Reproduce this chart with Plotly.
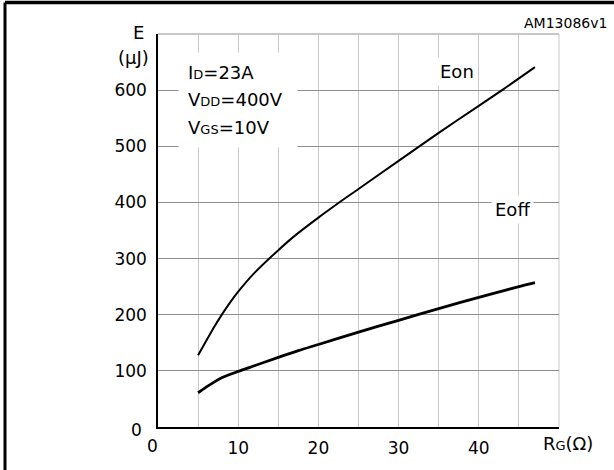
import plotly.graph_objects as go

# Data
rg_on = [5, 6, 7, 8, 9, 10, 12, 15, 17, 20, 22.5, 25, 30, 35, 40, 43, 47]
e_on = [128, 153, 178, 201, 222, 241, 274, 315, 340, 373, 399, 424, 474, 524, 572, 601, 641]
rg_off = [5, 6, 7, 8, 10, 12, 15, 17.5, 20, 25, 30, 35, 40, 45, 47]
e_off = [61, 71, 80, 88, 99, 109, 124, 136, 147, 169, 190, 211, 231, 250, 257]

x_ticks = [10, 20, 30, 40]
y_ticks = [100, 200, 300, 400, 500, 600]

FONT = "DejaVu Sans, Verdana, sans-serif"

fig = go.Figure()
fig.add_trace(go.Scatter(x=rg_on, y=e_on, mode="lines",
                         line=dict(color="black", width=2, shape="spline", smoothing=0.8),
                         showlegend=False, hoverinfo="skip"))
fig.add_trace(go.Scatter(x=rg_off, y=e_off, mode="lines",
                         line=dict(color="black", width=2.8, shape="spline", smoothing=0.8),
                         showlegend=False, hoverinfo="skip"))

fig.update_layout(
    width=614, height=470,
    margin=dict(l=158, r=55, t=34, b=36),
    paper_bgcolor="white", plot_bgcolor="white",
    font=dict(family=FONT, size=17, color="black"),
    xaxis=dict(range=[0, 50], tickvals=x_ticks, ticktext=[str(v) for v in x_ticks],
               showgrid=True, gridcolor="#c8c8c8", gridwidth=1,
               minor=dict(tick0=0, dtick=5, showgrid=True, gridcolor="#c8c8c8", gridwidth=1),
               showline=True, linecolor="black", linewidth=1.5,
               zeroline=False, ticks="", ticklabelstandoff=5,
               tickfont=dict(size=17, family=FONT)),
    yaxis=dict(range=[0, 700], tickvals=y_ticks, ticktext=[str(v) for v in y_ticks],
               showgrid=True, gridcolor="#8f8f8f", gridwidth=1,
               showline=True, linecolor="black", linewidth=1.5,
               zeroline=False, ticks="", ticklabelstandoff=6,
               tickfont=dict(size=17, family=FONT)),
)

# plot frame edges (top and right) in grey
fig.add_shape(type="line", xref="paper", yref="paper", x0=0, x1=1, y0=1, y1=1,
              line=dict(color="#8f8f8f", width=1), layer="below")
fig.add_shape(type="line", xref="paper", yref="paper", x0=1, x1=1, y0=0, y1=1,
              line=dict(color="#c8c8c8", width=1), layer="below")

def px_x(px):
    return (px - 158) / 401

def px_y(py):
    return (434 - py) / 400

# outer image border (top and left visible)
fig.add_shape(type="line", xref="paper", yref="paper", x0=px_x(5), x1=px_x(640), y0=px_y(2), y1=px_y(2),
              line=dict(color="black", width=3.5))
fig.add_shape(type="line", xref="paper", yref="paper", x0=px_x(5), x1=px_x(5), y0=px_y(490), y1=px_y(2),
              line=dict(color="black", width=3))

def label(px, py, text, size, xanchor="center", **kw):
    return dict(xref="paper", yref="paper", x=px_x(px), y=px_y(py), text=text,
                xanchor=xanchor, yanchor="middle", showarrow=False,
                font=dict(size=size, family=FONT, color="black"), **kw)

ann = []
# condition box
ann.append(label(178, 101,
                 ("<span style='font-size:18px'>I<span style='font-size:13px'>D</span>=23A</span><br>"
                  "<span style='font-size:18px'>V<span style='font-size:13px'>DD</span>=400V</span><br>"
                  "<span style='font-size:18px'>V<span style='font-size:13px'>GS</span>=10V</span>"),
                 21, xanchor="left", align="left", bgcolor="white", borderpad=9, width=100))
ann.append(label(457, 72, "Eon", 18, bgcolor="white", borderpad=3))
ann.append(label(512, 213, "Eoff", 18, bgcolor="white", borderpad=3))
ann.append(label(609, 23, "AM13086v1", 14, xanchor="right"))
ann.append(label(138, 32, "E", 18))
ann.append(label(133, 58, "(μJ)", 18))
ann.append(label(152, 453, "0", 17))
ann.append(label(144, 437, "0", 17, xanchor="right"))
ann.append(label(568, 451, "R<span style='font-size:13px'>G</span>(Ω)", 18))
fig.update_layout(annotations=ann)

fig.write_html("out.html", config={"displayModeBar": False},
               post_script="document.body.style.margin='0';")
